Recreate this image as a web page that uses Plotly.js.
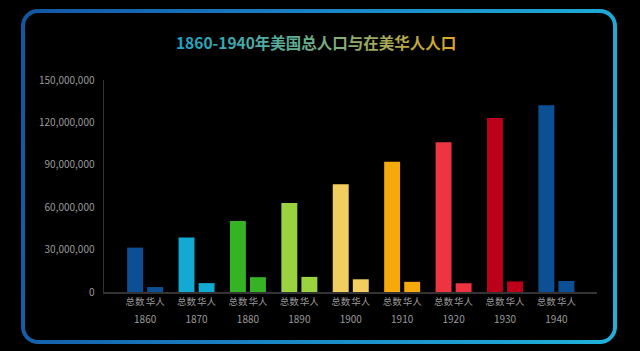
<!DOCTYPE html>
<html>
<head>
<meta charset="utf-8">
<script src="https://cdn.plot.ly/plotly-3.0.1.min.js"></script>
<style>
  html, body { margin: 0; padding: 0; background: #000; }
  #wrap { position: relative; width: 640px; height: 351px; background: #000; overflow: hidden; }
  #frame {
    position: absolute; left: 21px; top: 9px; width: 588px; height: 327px;
    border: 4px solid transparent; border-radius: 17px;
    background: linear-gradient(#000, #000) padding-box,
                linear-gradient(100deg, #1256a3 0%, #1a84c4 45%, #1fb2da 100%) border-box;
  }
  #chart { position: absolute; left: 0; top: 0; width: 640px; height: 351px; }
</style>
</head>
<body>
<div id="wrap">
  <div id="frame"></div>
  <div id="chart"></div>
</div>
<script>
// ---- data ----
const years = ['1860', '1870', '1880', '1890', '1900', '1910', '1920', '1930', '1940'];
const totalPop = [31400000, 38600000, 50200000, 63000000, 76200000, 92200000, 106000000, 123200000, 132200000];
const chinesePop = [3500000, 6300000, 10500000, 10700000, 9000000, 7200000, 6200000, 7500000, 7800000];
const seriesLabels = ['总数', '华人'];
const yTicks = [0, 30000000, 60000000, 90000000, 120000000, 150000000];
const barColors = ['#0b5094', '#12a9d2', '#36b325', '#9ad33f', '#f2ce61', '#f6a90d', '#ee3441', '#bd0019', '#0b5094'];
const titleText = '1860-1940年美国总人口与在美华人人口';

// ---- build ----
const idx = years.map((_, i) => i);
const off = 0.195, bw = 0.31;
const font = 'Noto Sans CJK SC, Noto Sans, sans-serif';

const traces = [
  { type: 'bar', x: idx, y: totalPop, width: bw, offset: -off - bw / 2,
    marker: { color: barColors, line: { width: 0 } }, name: seriesLabels[0], hoverinfo: 'y' },
  { type: 'bar', x: idx, y: chinesePop, width: bw, offset: off - bw / 2,
    marker: { color: barColors, line: { width: 0 } }, name: seriesLabels[1], hoverinfo: 'y' },
  { type: 'scatter', x: idx, y: idx.map(() => 0), xaxis: 'x2', mode: 'markers',
    marker: { opacity: 0 }, showlegend: false, hoverinfo: 'skip' }
];

const subVals = [], subText = [];
idx.forEach(i => {
  subVals.push(i - off, i + off);
  subText.push(seriesLabels[0], seriesLabels[1]);
});

const xr = [-0.8, 8.79];
const layout = {
  width: 640, height: 351,
  margin: { l: 104, r: 43, t: 80, b: 59 },
  paper_bgcolor: 'rgba(0,0,0,0)', plot_bgcolor: 'rgba(0,0,0,0)',
  showlegend: false,
  font: { family: font, color: '#9a9a9a' },
  title: {
    text: '<b>' + titleText + '</b>',
    font: { family: font, size: 15.5, color: '#1aa5c6' },
    xref: 'container', yref: 'container', x: 0.494, y: 0.877, xanchor: 'center', yanchor: 'middle'
  },
  xaxis: {
    range: xr, showgrid: false, zeroline: false,
    showline: true, linecolor: '#333333', linewidth: 1.5,
    tickmode: 'array', tickvals: subVals, ticktext: subText, tickangle: 0,
    ticks: '', tickfont: { size: 9.5, color: '#9a9a9a', family: font }
  },
  xaxis2: {
    range: xr, overlaying: 'x', anchor: 'y', side: 'bottom',
    showgrid: false, zeroline: false, showline: false,
    tickmode: 'array', tickvals: idx, ticktext: years, tickangle: 0,
    ticks: '', ticklabelstandoff: 20, tickfont: { size: 10, color: '#9a9a9a', family: font }
  },
  yaxis: {
    range: [0, 150000000], showgrid: false, zeroline: false,
    showline: true, linecolor: '#333333', linewidth: 1.5,
    tickmode: 'array', tickvals: yTicks, tickformat: ',d',
    ticks: 'outside', ticklen: 6, tickcolor: 'rgba(0,0,0,0)',
    tickfont: { size: 10, color: '#9a9a9a', family: font }
  }
};

Plotly.newPlot('chart', traces, layout, { displayModeBar: false, staticPlot: true }).then(gd => {
  const svg = gd.querySelector('svg.main-svg');
  const ns = 'http://www.w3.org/2000/svg';
  let defs = svg.querySelector('defs');
  if (!defs) { defs = document.createElementNS(ns, 'defs'); svg.insertBefore(defs, svg.firstChild); }
  const lg = document.createElementNS(ns, 'linearGradient');
  lg.setAttribute('id', 'titleGrad');
  lg.setAttribute('x1', '0'); lg.setAttribute('y1', '0'); lg.setAttribute('x2', '1'); lg.setAttribute('y2', '0');
  [['0', '#18a6cb'], ['0.5', '#6fae8a'], ['1', '#e2a720']].forEach(([o, c]) => {
    const s = document.createElementNS(ns, 'stop');
    s.setAttribute('offset', o); s.setAttribute('stop-color', c);
    lg.appendChild(s);
  });
  defs.appendChild(lg);
  document.querySelectorAll('.gtitle').forEach(t => {
    t.style.fill = 'url(#titleGrad)';
    t.querySelectorAll('tspan').forEach(ts => { ts.style.fill = 'url(#titleGrad)'; });
  });
});
</script>
</body>
</html>
